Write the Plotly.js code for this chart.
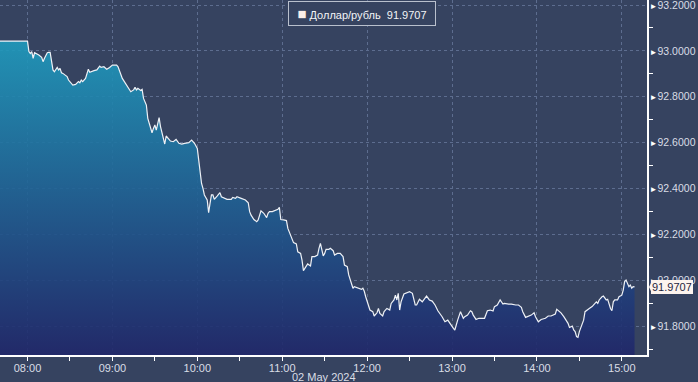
<!DOCTYPE html>
<html><head><meta charset="utf-8">
<script src="https://cdn.plot.ly/plotly-3.0.1.min.js"></script>
<style>html,body{margin:0;padding:0;background:#364360;}#chart{width:698px;height:382px;}</style>
</head><body><div id="chart"></div>
<script>
const seriesName = 'Доллар/рубль';
const dateLabel = '02 May 2024';
const day = '2024-05-02';

const times = [
 '07:40','08:00','08:01','08:02','08:03','08:04','08:05','08:06','08:08','08:10',
 '08:11','08:12','08:14','08:15','08:16','08:18','08:19','08:21','08:22','08:23',
 '08:24','08:25','08:28','08:29','08:31','08:32','08:34','08:36','08:37','08:38',
 '08:39','08:41','08:43','08:44','08:47','08:49','08:51','08:52','08:54','08:56',
 '08:58',
 '09:00','09:03','09:04','09:07','09:09','09:11','09:13','09:15','09:16','09:17',
 '09:18','09:20','09:21','09:22','09:24','09:25','09:27','09:28','09:29','09:30',
 '09:31','09:32','09:33','09:34','09:35','09:36','09:37','09:38','09:40','09:41',
 '09:43','09:45','09:47','09:49','09:51','09:54','09:56','09:58',
 '10:00','10:01','10:02','10:03','10:04','10:05','10:07','10:08','10:09','10:10',
 '10:11','10:12','10:14','10:16','10:17','10:18','10:21','10:23','10:24','10:25',
 '10:27','10:28','10:30','10:31','10:34','10:36','10:37','10:38','10:40','10:42',
 '10:43','10:44','10:45','10:47','10:49','10:50','10:51','10:53','10:55','10:57',
 '10:58','10:59',
 '11:01','11:03','11:04','11:06','11:08','11:10','11:11','11:13','11:14','11:15',
 '11:17','11:18','11:20','11:21','11:23','11:25','11:26','11:27','11:29','11:30',
 '11:31','11:33','11:34','11:36','11:37','11:39','11:41','11:43','11:44','11:46',
 '11:47','11:48','11:50','11:51','11:54','11:56','11:57','11:58','11:59',
 '12:01','12:02','12:04','12:05','12:07','12:08','12:09','12:11','12:12','12:14',
 '12:16','12:17','12:19','12:20','12:21','12:22','12:23','12:24','12:26','12:28',
 '12:30','12:32','12:34','12:35','12:37','12:39','12:40','12:42','12:44','12:46',
 '12:48','12:50','12:53','12:55','12:57','12:59',
 '13:01','13:02','13:03','13:04','13:06','13:08','13:09','13:11','13:13','13:14',
 '13:15','13:17','13:19','13:21','13:23','13:25','13:27','13:29','13:30','13:32',
 '13:34','13:36','13:37','13:40','13:42','13:45','13:47','13:49','13:50','13:52',
 '13:54','13:56','13:58','13:59',
 '14:01','14:03','14:06','14:08','14:10','14:13','14:14','14:16','14:17','14:19',
 '14:21','14:22','14:23','14:25','14:26','14:27','14:28','14:29','14:30','14:32',
 '14:33','14:34','14:36','14:37','14:39','14:40','14:42','14:43','14:44','14:46',
 '14:47','14:49','14:50','14:52','14:53','14:54','14:55','14:57','14:58',
 '15:00','15:01','15:02','15:03','15:05','15:06','15:07','15:08','15:09'
];

const values = [
 93.043,93.043,92.997,92.989,92.997,92.968,92.992,92.989,92.982,92.972,
 92.953,92.968,92.992,92.994,92.994,92.917,92.909,92.928,92.917,92.924,
 92.905,92.902,92.888,92.873,92.859,92.851,92.854,92.866,92.861,92.873,
 92.866,92.880,92.920,92.907,92.914,92.917,92.934,92.928,92.931,92.920,
 92.928,
 92.938,92.938,92.931,92.880,92.861,92.844,92.822,92.830,92.841,92.830,
 92.837,92.827,92.832,92.793,92.764,92.706,92.670,92.643,92.662,92.677,
 92.655,92.691,92.709,92.670,92.641,92.626,92.594,92.629,92.611,92.607,
 92.604,92.614,92.597,92.594,92.597,92.600,92.611,92.597,
 92.575,92.520,92.481,92.422,92.401,92.372,92.350,92.295,92.335,92.372,
 92.372,92.353,92.367,92.382,92.364,92.361,92.353,92.353,92.353,92.361,
 92.357,92.364,92.361,92.357,92.350,92.338,92.299,92.284,92.265,92.255,
 92.263,92.284,92.303,92.292,92.273,92.292,92.299,92.299,92.303,92.309,
 92.318,92.265,
 92.263,92.260,92.226,92.190,92.164,92.158,92.124,92.117,92.088,92.042,
 92.059,92.071,92.062,92.103,92.103,92.110,92.139,92.161,92.106,92.117,
 92.135,92.135,92.139,92.129,92.110,92.117,92.117,92.103,92.066,92.059,
 92.023,92.001,91.965,91.972,91.965,91.960,91.965,91.952,91.928,
 91.892,91.870,91.863,91.844,91.858,91.877,91.855,91.844,91.863,91.877,
 91.870,91.899,91.914,91.935,91.914,91.943,91.870,91.906,91.940,91.946,
 91.950,91.943,91.892,91.892,91.917,91.906,91.914,91.931,91.914,91.909,
 91.892,91.867,91.841,91.819,91.826,91.805,
 91.790,91.783,91.800,91.826,91.863,91.834,91.841,91.848,91.867,91.863,
 91.848,91.829,91.834,91.834,91.834,91.867,91.870,91.866,91.885,91.892,
 91.914,91.896,91.899,91.896,91.896,91.892,91.892,91.882,91.863,91.838,
 91.844,91.848,91.858,91.841,
 91.819,91.829,91.834,91.844,91.844,91.853,91.873,91.863,91.858,91.841,
 91.819,91.812,91.794,91.800,91.783,91.776,91.754,91.751,91.776,91.805,
 91.826,91.863,91.870,91.877,91.885,91.892,91.906,91.899,91.914,91.928,
 91.931,91.914,91.917,91.877,91.867,91.906,91.914,91.914,91.928,
 91.935,91.957,91.994,92.001,91.972,91.979,91.965,91.972,91.9707
];

const hourTicks = ['08:00','09:00','10:00','11:00','12:00','13:00','14:00','15:00'];
const halfHourTicks = ['08:30','09:30','10:30','11:30','12:30','13:30','14:30'];
const yTickVals = [91.8, 92.0, 92.2, 92.4, 92.6, 92.8, 93.0, 93.2];
const yMinorVals = [91.7, 91.9, 92.1, 92.3, 92.5, 92.7, 92.9, 93.1];
const xRange = ['07:40:34', '15:17:48'];
const yRange = [91.674, 93.222];

const x = times.map(t => day + ' ' + t);
const last = values[values.length - 1];

const trace = {
  x: x, y: values, type: 'scatter', mode: 'lines',
  line: {color: '#eef1f6', width: 1.2},
  fill: 'tozeroy',
  fillgradient: {type: 'vertical', start: yRange[0], stop: 93.05,
    colorscale: [[0, 'rgba(32,39,106,0.9)'], [1, 'rgba(31,156,190,0.9)']]},
  hoverinfo: 'skip', showlegend: false
};

const gridStyle = {gridcolor: '#5d6d8f', griddash: '3px,3px', gridwidth: 1};

const layout = {
  width: 698, height: 382,
  margin: {l: 0, r: 51, t: 0, b: 27, pad: 0},
  paper_bgcolor: '#364360', plot_bgcolor: '#364360',
  font: {family: '"Liberation Sans", Arial, sans-serif', size: 11, color: '#d9dde6'},
  showlegend: false,
  xaxis: Object.assign({
    type: 'date',
    range: xRange.map(t => day + ' ' + t),
    tickmode: 'array',
    tickvals: hourTicks.map(t => day + ' ' + t),
    ticktext: hourTicks,
    showgrid: true,
    showline: true, linecolor: '#ffffff', linewidth: 1.5,
    ticks: 'outside', ticklen: 4, tickcolor: '#ffffff', tickwidth: 1,
    ticklabelstandoff: -2,
    minor: {tickmode: 'array', tickvals: halfHourTicks.map(t => day + ' ' + t),
            ticks: 'outside', ticklen: 4, tickcolor: '#ffffff', showgrid: false},
    zeroline: false, fixedrange: true, automargin: false
  }, gridStyle),
  yaxis: Object.assign({
    side: 'right',
    range: yRange,
    tickmode: 'array',
    tickvals: yTickVals,
    ticktext: yTickVals.map(v => '<span style="color:#ffffff;font-size:8px">►</span>' + v.toFixed(4)),
    tickfont: {size: 10.5, color: '#d9dde6'},
    ticklabeloverflow: 'allow',
    ticklabelstandoff: -1,
    showgrid: true,
    showline: true, linecolor: '#ffffff', linewidth: 1.5,
    ticks: '',
    minor: {tickmode: 'array', tickvals: yMinorVals, ticks: 'outside', ticklen: 4,
            tickcolor: '#ffffff', showgrid: false},
    zeroline: false, fixedrange: true, automargin: false
  }, gridStyle),
  annotations: [
    {
      xref: 'paper', yref: 'paper', x: 0.5595, y: 0.962,
      xanchor: 'center', yanchor: 'middle', showarrow: false,
      text: '<span style="color:#fbeee8;font-size:15px">■</span>\u00a0' + seriesName + '\u00a0\u00a0' + last.toFixed(4),
      font: {size: 11, color: '#f2f4f7'},
      bgcolor: '#364360', bordercolor: '#b9c0cd', borderwidth: 1, borderpad: 4,
      width: 138, height: 15, align: 'center'
    },
    {
      xref: 'paper', yref: 'paper', x: 0.5, y: 0,
      xanchor: 'center', yanchor: 'top', yshift: -14, showarrow: false,
      text: dateLabel, font: {size: 11, color: '#d9dde6'}
    },
    {
      xref: 'paper', yref: 'y', x: 1, y: last,
      xanchor: 'left', yanchor: 'middle', xshift: 4, showarrow: false,
      text: last.toFixed(4), font: {size: 11, color: '#1f2540'},
      bgcolor: '#fdf4ee', bordercolor: '#fdf4ee', borderwidth: 1, borderpad: 0,
      height: 12
    }
  ],
  shapes: [
    {
      type: 'path', xref: 'paper', yref: 'y', layer: 'above',
      path: 'M 1.0031,' + last + ' L 1.0078,' + (last + 0.027) + ' L 1.0078,' + (last - 0.027) + ' Z',
      fillcolor: '#fdf4ee', line: {width: 0}
    }
  ]
};

Plotly.newPlot('chart', [trace], layout, {staticPlot: true, displayModeBar: false});
</script>
</body></html>
